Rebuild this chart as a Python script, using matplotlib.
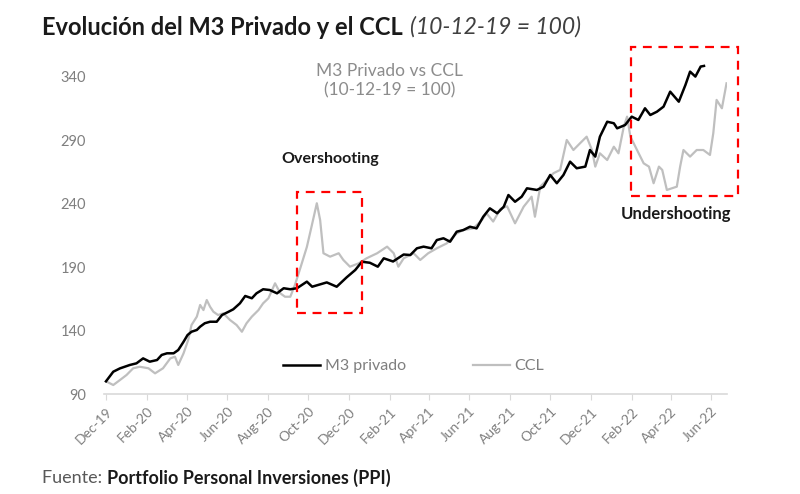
import numpy as np
import pandas as pd
import matplotlib
matplotlib.use('Agg')
import matplotlib.pyplot as plt
import matplotlib.dates as mdates
from matplotlib.patches import Rectangle

# base 10-12-19 = 100, x = days since base date
base = pd.Timestamp('2019-12-10')

m3_dias = [0, 11, 21, 36, 46, 56, 66, 77, 84, 92, 102, 109, 117, 123, 129, 137, 142, 149, 157, 167,
           175, 185, 192, 202, 210, 220, 227, 237, 247, 258, 268, 278, 288, 303, 311, 333, 348, 363, 376, 386,
           398, 410, 419, 433, 449, 459, 469, 479, 491, 499, 509, 519, 529, 539, 549, 559, 569, 579, 590, 600,
           607, 617, 627, 635, 650, 660, 670, 680, 690, 700, 710, 723, 730, 738, 745, 756, 766, 771, 783, 793,
           803, 813, 821, 831, 841, 851, 864, 874, 881, 889, 897, 902]
m3_vals = [100, 107.6, 110.2, 112.9, 114.2, 118.1, 115.5, 116.8, 120.8, 122.1, 122.1, 124.7, 131.2, 136.5, 139.1, 140.5, 143.1, 145.8, 147, 147,
           152.3, 154.9, 156.8, 161.5, 167.3, 165.5, 169.4, 172.6, 172, 169.4, 173.4, 172.6, 173.4, 178.6, 174.6, 178, 174.6, 182, 187.8, 194.3,
           193.5, 190.4, 197, 194.5, 200, 199.6, 204.9, 206.2, 204.9, 211.4, 212.8, 210.1, 218, 219.3, 221.9, 220.6, 229.8, 236.4, 232.5, 237.7,
           246.9, 241.6, 245.6, 252.2, 250.9, 253.5, 262.7, 256.2, 262.7, 273.2, 268, 269.3, 282.4, 277.2, 292.9, 304.7, 303.5, 299.5, 302.1, 308.7,
           306.1, 315.3, 310, 312.6, 316.6, 328.4, 320.5, 333.7, 344.2, 340.3, 348.2, 348.7]

ccl_dias = [0, 11, 21, 31, 41, 51, 64, 74, 86, 97, 104, 109, 117, 124, 129, 137, 142, 147, 152, 157,
            162, 169, 177, 187, 197, 205, 212, 220, 230, 237, 245, 255, 263, 270, 278, 285, 293, 303, 310, 318,
            323, 328, 338, 351, 358, 368, 381, 393, 409, 424, 434, 441, 449, 464, 474, 486, 499, 514, 529, 539,
            554, 567, 574, 584, 595, 605, 617, 630, 642, 647, 655, 665, 675, 685, 695, 705, 715, 725, 733, 738,
            745, 756, 766, 773, 781, 786, 791, 801, 811, 819, 826, 834, 839, 846, 861, 866, 871, 881, 891, 901,
            911, 916, 921, 929, 936]
ccl_vals = [100, 97.1, 101, 105, 110.3, 111.5, 110.3, 106.3, 110.3, 118.1, 119.4, 112.9, 122.1, 132.6, 144.4, 151, 160.2, 156.2, 164.1, 158.8,
            154.9, 152.3, 153.6, 148.4, 144.4, 139.1, 145.8, 151, 156.2, 161.5, 165.5, 177.3, 169.4, 166.7, 166.7, 176, 189.1, 206, 221.9, 240.4,
            227.2, 201, 198.3, 201, 195.7, 190.4, 193, 197, 201, 206.2, 201, 190.4, 197, 201, 195.7, 201, 204.9, 208.8, 216.6, 219.3,
            220.6, 227.2, 232.5, 226, 236, 238, 224.6, 237.7, 245.6, 229.8, 253.5, 258.8, 264.1, 266.7, 290.3, 282.4, 287.7, 292.9, 282.4, 269.3,
            279.8, 274.5, 285, 279.8, 300.8, 308.7, 292.9, 282.4, 271.9, 269.3, 256.2, 269.3, 266.7, 250.9, 253.5, 269.3, 282.4, 277.2, 282.4, 282.4,
            278.5, 295.6, 321.9, 315.3, 335]

y_ticks = [90, 140, 190, 240, 290, 340]

# annotation boxes (days from base, value)
box_over = (288, 386, 154, 249)
box_under = (792, 954, 246, 364)

fecha_m3 = base + pd.to_timedelta(m3_dias, unit='D')
fecha_ccl = base + pd.to_timedelta(ccl_dias, unit='D')

plt.rcParams['font.family'] = ['Lato', 'DejaVu Sans']

fig = plt.figure(figsize=(8, 4.94), dpi=100)
ax = fig.add_axes([0.13, 0.2024, 0.779, 0.706])

ax.plot(fecha_ccl, ccl_vals, color='#bfbfbf', lw=1.6, label='CCL', zorder=2)
ax.plot(fecha_m3, m3_vals, color='#000000', lw=1.8, label='M3 privado', zorder=3)

ax.set_ylim(90, 365)
ax.set_xlim(base - pd.Timedelta(days=3), base + pd.Timedelta(days=937))
ax.set_yticks(y_ticks)

xt = pd.date_range('2019-12-01', periods=16, freq='2MS') + pd.Timedelta(days=9)
ax.set_xticks(xt)
ax.set_xticklabels([d.strftime('%b-%y') for d in xt], rotation=45, ha='right',
                   rotation_mode='anchor', color='#7f7f7f', fontsize=10)
ax.tick_params(axis='x', length=4, color='#d9d9d9', pad=4)
ax.tick_params(axis='y', length=0, labelsize=10.5, labelcolor='#7f7f7f', pad=13)

for s in ['top', 'right', 'left']:
    ax.spines[s].set_visible(False)
ax.spines['bottom'].set_color('#d9d9d9')
ax.spines['bottom'].set_linewidth(1.2)

for b in [box_over, box_under]:
    x0 = mdates.date2num(base + pd.Timedelta(days=b[0]))
    x1 = mdates.date2num(base + pd.Timedelta(days=b[1]))
    r = Rectangle((x0, b[2]), x1 - x0, b[3] - b[2], fill=False, ec='#ff0000',
                  lw=1.6, ls=(0, (4, 3)), clip_on=False, zorder=4)
    ax.add_patch(r)

ax.text(0.458, 0.898, 'M3 Privado vs CCL\n(10-12-19 = 100)', transform=ax.transAxes,
        ha='center', va='center', fontsize=12.5, color='#8c8c8c', linespacing=1.3)
ax.text(0.363, 0.675, 'Overshooting', transform=ax.transAxes, ha='center', va='center',
        fontsize=11.5, fontweight='bold', color='#1a1a1a')
ax.text(0.918, 0.515, 'Undershooting', transform=ax.transAxes, ha='center', va='center',
        fontsize=12, fontweight='bold', color='#1a1a1a')

h, l = ax.get_legend_handles_labels()
leg = ax.legend(h[::-1], l[::-1], loc='center', bbox_to_anchor=(0.497, 0.08), ncol=2,
                frameon=False, fontsize=11.5, handlelength=2.3, columnspacing=4.2, handletextpad=0.3)
for t in leg.get_texts():
    t.set_color('#7f7f7f')

t1 = fig.text(0.053, 0.945, 'Evolución del M3 Privado y el CCL', fontsize=17, fontweight='bold',
              color='#1a1a1a', va='center')
fig.canvas.draw()
bb = t1.get_window_extent()
fig.text(bb.x1 / fig.bbox.width + 0.008, 0.945, '(10-12-19 = 100)', fontsize=16.5, style='italic',
         color='#404040', va='center')

f1 = fig.text(0.053, 0.032, 'Fuente: ', fontsize=13, color='#595959', va='center')
fig.canvas.draw()
bb = f1.get_window_extent()
fig.text(bb.x1 / fig.bbox.width, 0.032, 'Portfolio Personal Inversiones (PPI)', fontsize=13,
         fontweight='bold', color='#1a1a1a', va='center')

fig.savefig('out.png', dpi=100)
